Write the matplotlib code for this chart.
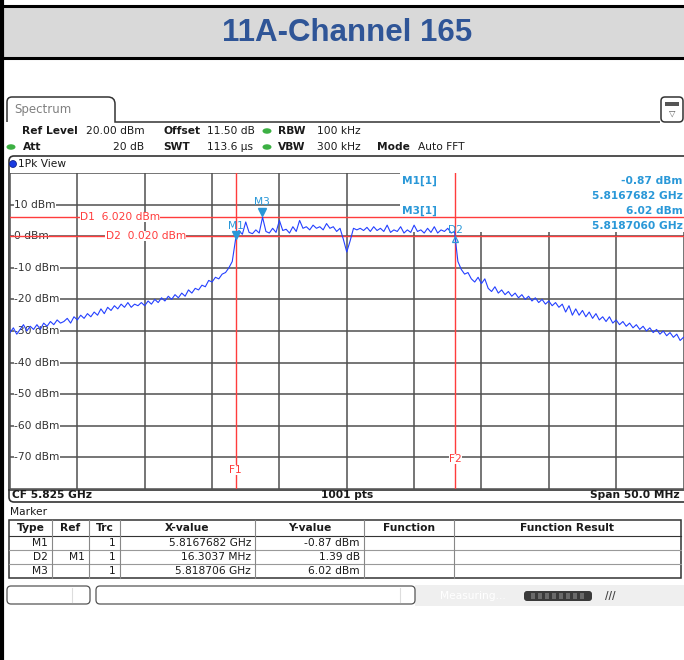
import numpy as np
import matplotlib.pyplot as plt
from matplotlib.patches import Rectangle, FancyBboxPatch, Ellipse, PathPatch
from matplotlib.path import Path
from matplotlib.transforms import offset_copy

plt.rcParams['font.family'] = ['DejaVu Sans']

# ---- 数据 ----
title = '11A-Channel 165'
cf_ghz = 5.825
span_ghz = 0.050
ref_level = 20.0
n_div = 10

# trace level (dBm), one value per 0.25 MHz from 5.800 to 5.850 GHz
trace_left = [
    -30.5, -29.0, -31.0, -29.5, -28.0, -30.0, -28.5, -29.5,
    -28.0, -29.5, -27.5, -28.5, -27.0, -28.0, -26.5, -27.5,
    -27.0, -26.0, -27.5, -25.5, -26.5, -25.0, -26.0, -24.5,
    -25.5, -24.0, -25.0, -23.0, -24.5, -22.5, -23.5, -22.0,
    -23.0, -21.5, -22.5, -21.0, -22.5, -21.5, -22.0, -21.0,
    -22.0, -20.5, -21.5, -20.0, -21.0, -19.5, -20.5, -19.0,
    -20.0, -18.5, -19.5, -18.0, -19.0, -17.0, -18.0, -16.5,
    -17.0, -15.5, -16.0, -14.0, -14.5, -13.0, -13.5, -12.0,
    -11.5, -10.0, -8.0,
]
trace_band = [
    -0.9, 1.8, 0.6, 4.5, 1.2, 0.8, 2.0, 1.0, 6.0, 1.5,
    1.0, 2.5, 1.2, 5.0, 1.8, 2.2, 1.0, 3.0, 1.5, 5.0,
    2.5, 3.0, 2.0, 3.5, 2.5, 3.0, 2.0, 4.0, 2.5, 3.0,
    1.5, 2.5, -1.0, -5.0, -1.5, 2.5, 2.0, 2.5, 1.8, 2.8,
    1.5, 3.0, 1.8, 2.5, 1.5, 3.5, 1.2, 2.0, 1.5, 3.0,
    1.0, 2.0, 1.2, 3.5, 1.5, 2.0, 1.0, 2.5, 1.2, 3.0,
    1.0, 2.0, 1.5, 2.5, 1.0, 1.5,
]
trace_right = [
    -8.0, -10.5, -12.0, -11.5, -13.5, -14.5, -13.0, -15.0,
    -13.5, -16.5, -17.5, -16.0, -18.0, -17.0, -18.5, -17.5,
    -19.0, -18.0, -19.5, -18.5, -20.0, -19.0, -20.5, -19.5,
    -21.0, -20.0, -21.5, -20.5, -22.0, -21.0, -22.5, -21.5,
    -24.0, -22.0, -25.0, -23.0, -25.0, -23.5, -25.5, -24.0,
    -26.0, -24.5, -26.5, -25.5, -27.0, -25.5, -27.5, -26.5,
    -28.0, -27.0, -28.5, -27.5, -29.0, -28.0, -29.5, -28.5,
    -30.0, -29.0, -30.5, -29.5, -31.0, -30.0, -31.5, -30.5,
    -32.0, -31.0, -33.0, -32.0,
]
level = np.array(trace_left + trace_band + trace_right)
freq = np.linspace(cf_ghz - span_ghz / 2, cf_ghz + span_ghz / 2, len(level))

m1_freq, m1_level = 5.8167682, -0.87
m3_freq, m3_level = 5.818706, 6.02
d2_delta_freq, d2_delta_level = 0.0163037, 1.39
d1_line, d2_line = 6.020, 0.020

table_header = ['Type', 'Ref', 'Trc', 'X-value', 'Y-value', 'Function', 'Function Result']
table_rows = [
    ['M1', '', '1', '5.8167682 GHz', '-0.87 dBm'],
    ['D2', 'M1', '1', '16.3037 MHz', '1.39 dB'],
    ['M3', '', '1', '5.818706 GHz', '6.02 dBm'],
]

# ---- 颜色 ----
blue_txt = '#2a98d8'
red = '#ff3c3c'
grid_c = '#505050'
green = '#3cb043'
fs = 7.7

fig = plt.figure(figsize=(6.84, 6.60), dpi=100)

# 背景层，像素坐标
bg = fig.add_axes([0, 0, 1, 1])
bg.set_xlim(0, 684)
bg.set_ylim(660, 0)
bg.axis('off')

# 标题栏
bg.add_patch(Rectangle((0, 6), 684, 52, facecolor='#d9d9d9', edgecolor='none'))
bg.plot([0, 684], [6, 6], color='black', lw=2.2)
bg.plot([0, 684], [58, 58], color='black', lw=2.2)
bg.plot([1.5, 1.5], [0, 660], color='black', lw=3)
bg.text(347, 33, title, ha='center', va='center', fontsize=22.5, fontweight='bold',
        family='Liberation Sans', color='#2f5597')

# Spectrum 标签页
tab = Path([(7, 122), (7, 102), (7, 97), (12, 97), (108, 97), (115, 97), (115, 104),
            (115, 122), (660, 122)],
           [Path.MOVETO, Path.LINETO, Path.CURVE3, Path.CURVE3, Path.LINETO, Path.CURVE3,
            Path.CURVE3, Path.LINETO, Path.LINETO])
bg.add_patch(PathPatch(tab, facecolor='none', edgecolor='#333333', lw=1.1))
bg.text(14, 110, 'Spectrum', fontsize=8.5, color='#808080', va='center')
bg.add_patch(FancyBboxPatch((661, 97), 22, 25, boxstyle='round,pad=0,rounding_size=4',
                            facecolor='white', edgecolor='#333333', lw=1.1))
bg.add_patch(Rectangle((665, 102), 14, 4, facecolor='#555555', edgecolor='none'))
bg.text(672, 113, '▽', fontsize=6, ha='center', va='center', color='#555555')

# 参数行
def info(x, y, s, bold=False, ha='left'):
    bg.text(x, y, s, fontsize=fs, fontweight='bold' if bold else 'normal',
            ha=ha, va='center', color='#1a1a1a')

info(22, 131, 'Ref Level', True)
info(86, 131, '20.00 dBm')
info(163, 131, 'Offset', True)
info(207, 131, '11.50 dB')
info(278, 131, 'RBW', True)
info(317, 131, '100 kHz')
info(23, 147, 'Att', True)
info(144, 147, '20 dB', ha='right')
info(163, 147, 'SWT', True)
info(207, 147, '113.6 µs')
info(278, 147, 'VBW', True)
info(317, 147, '300 kHz')
info(377, 147, 'Mode', True)
info(418, 147, 'Auto FFT')
for (x, y) in [(267, 131), (11, 147), (267, 147)]:
    bg.add_patch(Ellipse((x, y), 9, 5.5, facecolor=green, edgecolor='none'))

# 1Pk View 面板
bg.add_patch(FancyBboxPatch((9, 156), 690, 346, boxstyle='round,pad=0,rounding_size=5',
                            facecolor='white', edgecolor='#333333', lw=1.2))
bg.add_patch(Ellipse((13, 164), 7, 7, facecolor='#1a3be0', edgecolor='#0a1a80', lw=0.5))
bg.text(18, 164, '1Pk View', fontsize=fs, va='center', color='#1a1a1a')
bg.plot([9, 684], [489.5, 489.5], color='#333333', lw=1.2)
info(12, 494.5, 'CF 5.825 GHz', True)
info(347, 494.5, '1001 pts', True, ha='center')
info(680, 494.5, 'Span 50.0 MHz', True, ha='right')

# Marker 表格
info(10, 512, 'Marker')
col_edges = [9, 52, 89, 120, 255, 364, 454, 681]
row_edges = [520, 536, 550, 564, 578]
bg.add_patch(Rectangle((9, 520), 672, 58, facecolor='white', edgecolor='#333333', lw=1.1))
for y in row_edges[1:-1]:
    bg.plot([9, 681], [y, y], color='#999999' if y != 536 else '#333333', lw=0.8)
for x in col_edges[1:-1]:
    bg.plot([x, x], [520, 578], color='#888888', lw=0.8)
for i, h in enumerate(table_header):
    info((col_edges[i] + col_edges[i + 1]) / 2, 528, h, True, ha='center')
for r, row in enumerate(table_rows):
    y = (row_edges[r + 1] + row_edges[r + 2]) / 2
    for c, val in enumerate(row):
        if val:
            info(col_edges[c + 1] - 4, y, val, ha='right')

# 底部状态栏
bg.add_patch(Rectangle((415, 585), 269, 21, facecolor='#efefef', edgecolor='none'))
bg.add_patch(FancyBboxPatch((7, 586), 83, 18, boxstyle='round,pad=0,rounding_size=4',
                            facecolor='white', edgecolor='#555555', lw=0.9))
bg.add_patch(FancyBboxPatch((96, 586), 319, 18, boxstyle='round,pad=0,rounding_size=4',
                            facecolor='white', edgecolor='#555555', lw=0.9))
bg.plot([72, 72], [588, 602], color='#dddddd', lw=0.8)
bg.plot([400, 400], [588, 602], color='#dddddd', lw=0.8)
bg.text(440, 596, 'Measuring...', fontsize=fs, color='white', va='center')
bg.add_patch(FancyBboxPatch((524, 591), 68, 10, boxstyle='round,pad=0,rounding_size=3',
                            facecolor='#3a3a3a', edgecolor='none'))
for k in range(8):
    bg.add_patch(Rectangle((531 + k * 7, 593), 4, 6, facecolor='#6a6a6a', edgecolor='none'))
bg.text(610, 596, '///', fontsize=7, color='#444444', va='center', ha='center',
        fontweight='bold')

# ---- 频谱图 ----
ax = fig.add_axes([10 / 684, 1 - 489 / 660, 673.5 / 684, 316 / 660])
ax.set_facecolor('none')
ax.set_xlim(freq[0], freq[-1])
ax.set_ylim(ref_level - 100, ref_level)
ax.set_xticks(np.linspace(freq[0], freq[-1], n_div + 1))
ax.set_yticks(np.arange(ref_level - 100, ref_level + 1, 10))
ax.tick_params(length=0, labelbottom=False, labelleft=False)
ax.set_axisbelow(True)
ax.grid(True, color=grid_c, lw=1.1)
for s in ax.spines.values():
    s.set_visible(False)

for v in np.arange(ref_level - 90, ref_level, 10):
    ax.text(freq[0] + 0.0003, v, f'{v:.0f} dBm', fontsize=fs, color='#333333',
            va='center', ha='left', zorder=1,
            bbox=dict(facecolor='white', edgecolor='none', pad=0.3))

# 右上角标记信息框
box_x0 = freq[0] + (400 - 10) / 673.5 * span_ghz
ax.add_patch(Rectangle((box_x0, 1.3), freq[-1] - box_x0, ref_level - 1.3,
                       facecolor='white', edgecolor='none', zorder=1.5))

# 显示线和频率线
f2_freq = m1_freq + d2_delta_freq
ax.axhline(d1_line, color=red, lw=1.0, zorder=1.8)
ax.axhline(d2_line, color=red, lw=1.0, zorder=1.8)
ax.axvline(m1_freq, color=red, lw=1.0, zorder=1.8)
ax.axvline(f2_freq, color=red, lw=1.0, zorder=1.8)

lab = dict(fontsize=fs, color=red, va='center', zorder=3,
           bbox=dict(facecolor='white', edgecolor='none', pad=0.2))
ax.text(5.8052, d1_line, f'D1  {d1_line:.3f} dBm', ha='left', **lab)
ax.text(5.8071, d2_line, f'D2  {d2_line:.3f} dBm', ha='left', **lab)
ax.text(m1_freq, -74, 'F1', ha='center', **lab)
ax.text(f2_freq, -70.5, 'F2', ha='center', **lab)

# 迹线
ax.plot(freq, level, color='#2440ff', lw=0.8, zorder=2)

# 标记
ax.plot(m1_freq, m1_level + 0.3, marker='v', ms=6, color=blue_txt, transform=offset_copy(
    ax.transData, fig=fig, x=0, y=2.5, units='points'), zorder=4, clip_on=False)
ax.plot(m3_freq, m3_level, marker='v', ms=6, color=blue_txt, transform=offset_copy(
    ax.transData, fig=fig, x=0, y=3.5, units='points'), zorder=4)
ax.text(m1_freq, m1_level, 'M1', fontsize=fs, color=blue_txt, ha='center', va='bottom',
        transform=offset_copy(ax.transData, fig=fig, x=0, y=6, units='points'), zorder=4)
ax.text(m3_freq, m3_level, 'M3', fontsize=fs, color=blue_txt, ha='center', va='bottom',
        transform=offset_copy(ax.transData, fig=fig, x=0, y=7, units='points'), zorder=4)
d2_level = m1_level + d2_delta_level
ax.plot(f2_freq, d2_level, marker='^', ms=4.5, mfc='none', mec=blue_txt, mew=0.9,
        transform=offset_copy(ax.transData, fig=fig, x=0, y=-3.5, units='points'), zorder=4)
ax.text(f2_freq, d2_level, 'D2', fontsize=fs, color=blue_txt, ha='center', va='bottom',
        transform=offset_copy(ax.transData, fig=fig, x=0, y=0, units='points'), zorder=4)

bt = dict(fontsize=fs, color=blue_txt, fontweight='bold', va='center', zorder=3,
          bbox=dict(facecolor='white', edgecolor='none', pad=0.3))
x_l = freq[0] + (402 - 10) / 673.5 * span_ghz
x_r = freq[-1] - 0.00005
ax.text(x_l, 17.5, 'M1[1]', ha='left', **bt)
ax.text(x_r, 17.5, f'{m1_level:.2f} dBm', ha='right', **bt)
ax.text(x_r, 12.7, f'{m1_freq:.7f} GHz', ha='right', **bt)
ax.text(x_l, 8.0, 'M3[1]', ha='left', **bt)
ax.text(x_r, 8.0, f'{m3_level:.2f} dBm', ha='right', **bt)
ax.text(x_r, 3.2, f'{m3_freq:.7f} GHz', ha='right', **bt)

fig.savefig('out.png', dpi=100)
